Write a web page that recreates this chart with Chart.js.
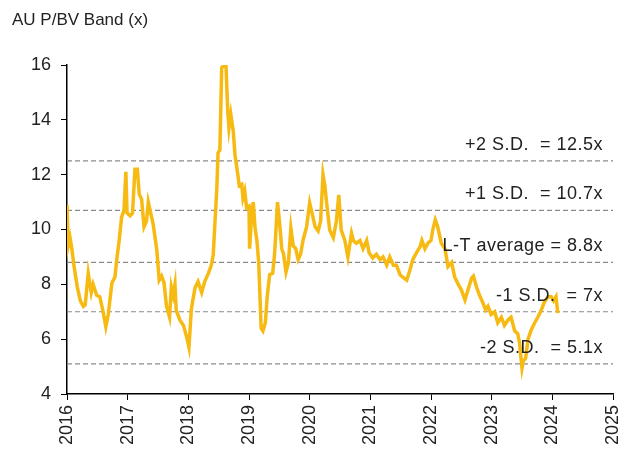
<!DOCTYPE html>
<html>
<head>
<meta charset="utf-8">
<script src="https://cdn.jsdelivr.net/npm/chart.js@4.4.1/dist/chart.umd.min.js"></script>
<style>
  html, body { margin: 0; padding: 0; background: #fff; }
  #wrap { width: 629px; height: 459px; }
</style>
</head>
<body>
<div id="wrap"><canvas id="grafico" width="629" height="459"></canvas></div>
<script>
// Datos (anio decimal, P/BV)
var fechas = [
  2016.00, 2016.02, 2016.05, 2016.08, 2016.12, 2016.17, 2016.22, 2016.27, 2016.30, 2016.35,
  2016.40, 2016.43, 2016.49, 2016.54, 2016.60, 2016.64, 2016.68, 2016.74, 2016.79, 2016.82,
  2016.86, 2016.90, 2016.94, 2016.97, 2016.99, 2017.04, 2017.08, 2017.12, 2017.16, 2017.19,
  2017.23, 2017.27, 2017.31, 2017.34, 2017.38, 2017.42, 2017.48, 2017.52, 2017.56, 2017.60,
  2017.64, 2017.69, 2017.72, 2017.75, 2017.78, 2017.80, 2017.86, 2017.92, 2017.97, 2018.01,
  2018.05, 2018.11, 2018.16, 2018.22, 2018.27, 2018.33, 2018.38, 2018.41, 2018.44, 2018.47,
  2018.49, 2018.52, 2018.55, 2018.59, 2018.62, 2018.65, 2018.67, 2018.70, 2018.74, 2018.77,
  2018.80, 2018.84, 2018.88, 2018.90, 2018.93, 2018.96, 2019.00, 2019.01, 2019.04, 2019.07,
  2019.10, 2019.13, 2019.16, 2019.18, 2019.20, 2019.23, 2019.27, 2019.30, 2019.34, 2019.39,
  2019.42, 2019.44, 2019.47, 2019.51, 2019.54, 2019.57, 2019.61, 2019.65, 2019.69, 2019.73,
  2019.77, 2019.81, 2019.85, 2019.89, 2019.95, 2020.00, 2020.05, 2020.09, 2020.14, 2020.18,
  2020.22, 2020.25, 2020.28, 2020.33, 2020.39, 2020.44, 2020.48, 2020.52, 2020.58, 2020.63,
  2020.69, 2020.72, 2020.77, 2020.83, 2020.88, 2020.94, 2020.98, 2021.04, 2021.10, 2021.16,
  2021.21, 2021.27, 2021.32, 2021.38, 2021.43, 2021.49, 2021.54, 2021.60, 2021.65, 2021.70,
  2021.76, 2021.82, 2021.85, 2021.90, 2021.95, 2022.00, 2022.03, 2022.07, 2022.11, 2022.17,
  2022.23, 2022.28, 2022.34, 2022.39, 2022.45, 2022.50, 2022.56, 2022.61, 2022.67, 2022.70,
  2022.75, 2022.80, 2022.86, 2022.90, 2022.94, 2022.99, 2023.05, 2023.10, 2023.16, 2023.21,
  2023.27, 2023.32, 2023.38, 2023.43, 2023.46, 2023.50, 2023.52, 2023.56, 2023.60, 2023.65,
  2023.71, 2023.76, 2023.82, 2023.87, 2023.93, 2023.98, 2024.02, 2024.06, 2024.09
];
var valoresPBV = [
  10.9, 9.4, 9.7, 9.3, 8.6, 7.9, 7.4, 7.2, 7.25, 8.4,
  7.7, 8.0, 7.6, 7.55, 6.95, 6.45, 6.9, 8.05, 8.27, 8.9,
  9.6, 10.45, 10.7, 12.1, 10.6, 10.5, 10.6, 12.2, 12.2, 11.3,
  11.1, 10.1, 10.3, 11.0, 10.6, 10.2, 9.25, 8.15, 8.3, 8.05,
  7.2, 6.8, 7.9, 7.6, 8.0, 7.05, 6.7, 6.5, 6.1, 5.7,
  7.1, 7.87, 8.1, 7.7, 8.1, 8.4, 8.7, 9.07, 10.3, 11.5,
  12.8, 12.9, 15.9, 16.0, 16.0, 14.3, 13.7, 14.2, 13.6, 12.7,
  12.25, 11.6, 11.65, 11.15, 11.4, 10.8, 10.85, 9.3, 10.4, 11.0,
  10.05, 9.6, 8.8, 7.6, 6.4, 6.3, 6.6, 7.55, 8.35, 8.4,
  9.05, 9.8, 11.0, 10.1, 9.3, 9.1, 8.45, 8.8, 10.05, 9.4,
  9.3, 8.9, 9.1, 9.6, 10.1, 10.97, 10.5, 10.1, 9.95, 10.3,
  12.0, 11.6, 10.97, 9.98, 9.7, 10.3, 11.26, 9.98, 9.6, 9.0,
  9.86, 9.6, 9.5, 9.6, 9.3, 9.6, 9.15, 8.96, 9.1, 8.9,
  9.0, 8.7, 9.0, 8.7, 8.7, 8.35, 8.25, 8.15, 8.5, 8.9,
  9.15, 9.37, 9.6, 9.3, 9.5, 9.6, 10.0, 10.35, 10.1, 9.5,
  9.3, 8.65, 8.8, 8.27, 8.0, 7.8, 7.43, 7.8, 8.23, 8.3,
  7.9, 7.6, 7.3, 7.07, 7.2, 6.9, 7.0, 6.6, 6.8, 6.5,
  6.7, 6.8, 6.3, 6.2, 5.85, 4.95, 5.2, 5.3, 6.0, 6.33,
  6.6, 6.8, 7.07, 7.36, 7.55, 7.55, 7.4, 7.55, 6.95
];
var bandasValores = [12.5, 10.7, 8.8, 7.0, 5.1];
var bandasEtiquetas = ['+2 S.D.  = 12.5x', '+1 S.D.  = 10.7x', 'L-T average = 8.8x', '-1 S.D.  = 7x', '-2 S.D.  = 5.1x'];
var ejeX = [2016, 2025];
var ejeY = [4, 16];

var puntos = fechas.map(function (f, i) { return { x: f, y: valoresPBV[i] }; });
var fuente = '"Liberation Sans", Arial, sans-serif';

var datasets = [{
  data: puntos,
  borderColor: '#F6BA12',
  borderWidth: 3.5,
  pointRadius: 0,
  tension: 0,
  order: 0
}];
bandasValores.forEach(function (v) {
  datasets.push({
    data: [{ x: ejeX[0], y: v }, { x: ejeX[1], y: v }],
    borderColor: '#8a8a8a',
    borderWidth: 1.2,
    borderDash: [5, 3],
    pointRadius: 0,
    order: 1
  });
});

// Titulo y etiquetas de las bandas
const textosPlugin = {
  id: 'textos',
  afterDraw(chart) {
    const ctx = chart.ctx;
    const y = chart.scales.y;
    ctx.save();
    ctx.fillStyle = '#222';
    ctx.font = '17px ' + fuente;
    ctx.textAlign = 'left';
    ctx.textBaseline = 'middle';
    ctx.fillText('AU P/BV Band (x)', 12, 20);
    ctx.font = '18px ' + fuente;
    if ('letterSpacing' in ctx) ctx.letterSpacing = '0.5px';
    ctx.textAlign = 'right';
    bandasValores.forEach(function (v, i) {
      ctx.fillText(bandasEtiquetas[i], chart.chartArea.right - 10, y.getPixelForValue(v) - 16);
    });
    ctx.restore();
  }
};

new Chart(document.getElementById('grafico'), {
  type: 'line',
  data: { datasets: datasets },
  plugins: [textosPlugin],
  options: {
    responsive: false,
    animation: false,
    layout: { padding: { top: 65, right: 16, left: 0, bottom: 0 } },
    plugins: { legend: { display: false }, tooltip: { enabled: false }, title: { display: false } },
    scales: {
      x: {
        type: 'linear',
        min: ejeX[0], max: ejeX[1],
        afterFit: function (s) { s.height = 65; s.paddingLeft = 0; s.paddingRight = 0; },
        ticks: {
          stepSize: 1,
          autoSkip: false,
          minRotation: 90, maxRotation: 90,
          color: '#222',
          padding: 5,
          font: { size: 18, family: fuente },
          callback: function (v) { return String(v); }
        },
        grid: { drawOnChartArea: false, drawTicks: true, tickLength: 6, color: '#000' },
        border: { color: '#000', width: 1.5 }
      },
      y: {
        min: ejeY[0], max: ejeY[1],
        afterFit: function (s) { s.width = 67; },
        ticks: {
          stepSize: 2,
          color: '#222',
          padding: 10,
          font: { size: 18, family: fuente }
        },
        grid: { drawOnChartArea: false, drawTicks: true, tickLength: 6, color: '#000' },
        border: { color: '#000', width: 1.5 }
      }
    }
  }
});
</script>
</body>
</html>
